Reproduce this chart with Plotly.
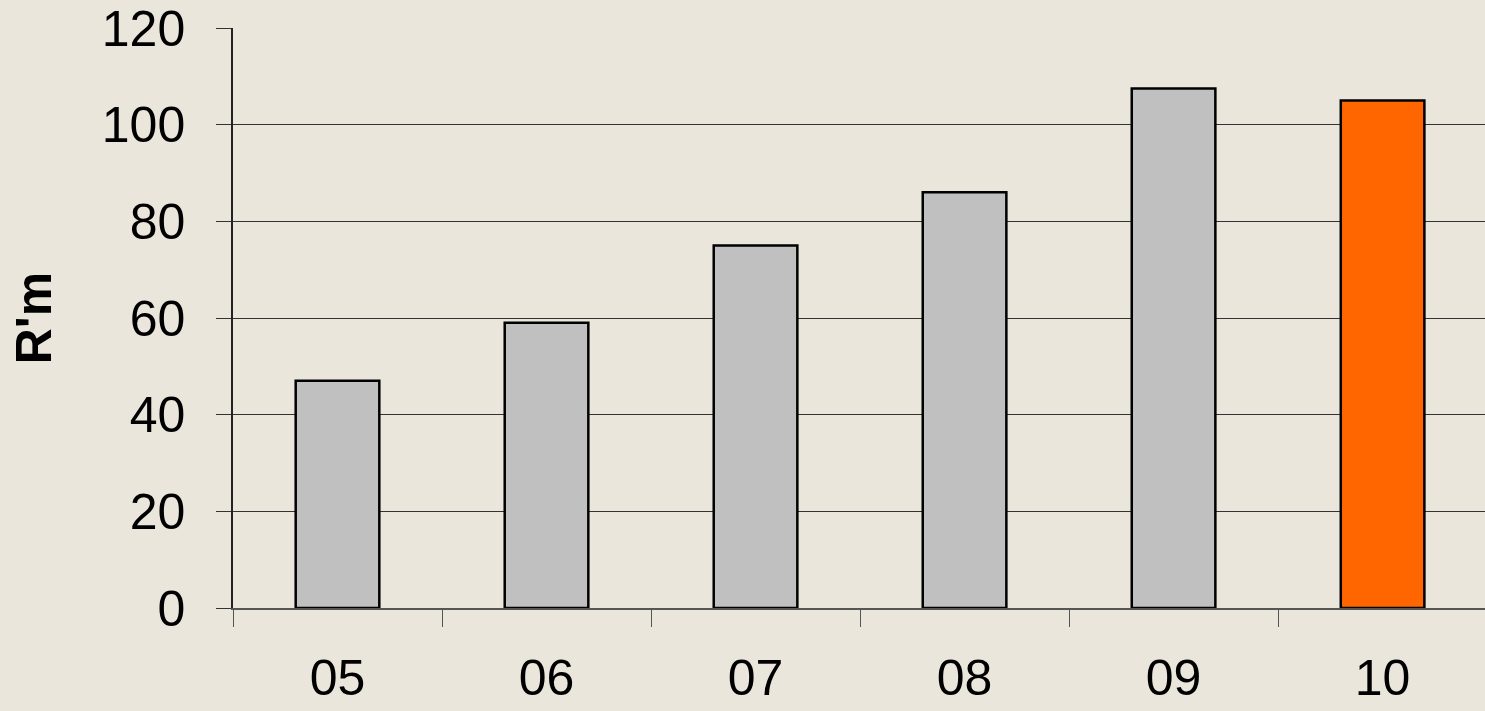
import plotly.graph_objects as go

# Annual figures, R'm
years = ["05", "06", "07", "08", "09", "10"]
values = [47, 59, 75, 86, 107.5, 105]
bar_colors = ["#C0C0C0", "#C0C0C0", "#C0C0C0", "#C0C0C0", "#C0C0C0", "#FF6600"]
y_ticks = [0, 20, 40, 60, 80, 100, 120]

bg = "#EAE6DC"
font_family = "Liberation Sans, Arial, sans-serif"

fig = go.Figure(
    go.Bar(
        x=years,
        y=values,
        marker=dict(color=bar_colors, line=dict(color="#000000", width=2.5)),
        hoverinfo="x+y",
    )
)

fig.update_layout(
    width=1485,
    height=711,
    margin=dict(l=233, r=0, t=28, b=103),
    paper_bgcolor=bg,
    plot_bgcolor=bg,
    bargap=0.6,
    showlegend=False,
    font=dict(family=font_family, color="#000000", size=50),
)

fig.update_xaxes(
    type="category",
    range=[-0.5, 5.49],
    tickson="boundaries",
    ticks="outside",
    ticklen=17,
    tickwidth=1,
    tickcolor="#555555",
    showgrid=False,
    showline=True,
    linecolor="#555555",
    linewidth=2,
    tickfont=dict(size=50, family=font_family),
    ticklabelstandoff=25,
    automargin=False,
)

fig.update_yaxes(
    range=[0, 120],
    tickvals=y_ticks,
    ticks="outside",
    ticklen=15,
    tickwidth=1,
    tickcolor="#333333",
    showgrid=True,
    gridcolor="#333333",
    gridwidth=1.2,
    zeroline=False,
    showline=True,
    linecolor="#222222",
    linewidth=1.5,
    tickfont=dict(size=50, family=font_family),
    ticklabelstandoff=21,
    automargin=False,
    title=dict(
        text="<b>R'm</b>",
        font=dict(size=50, family=font_family),
        standoff=34,
    ),
)

fig.write_html("out.html")
